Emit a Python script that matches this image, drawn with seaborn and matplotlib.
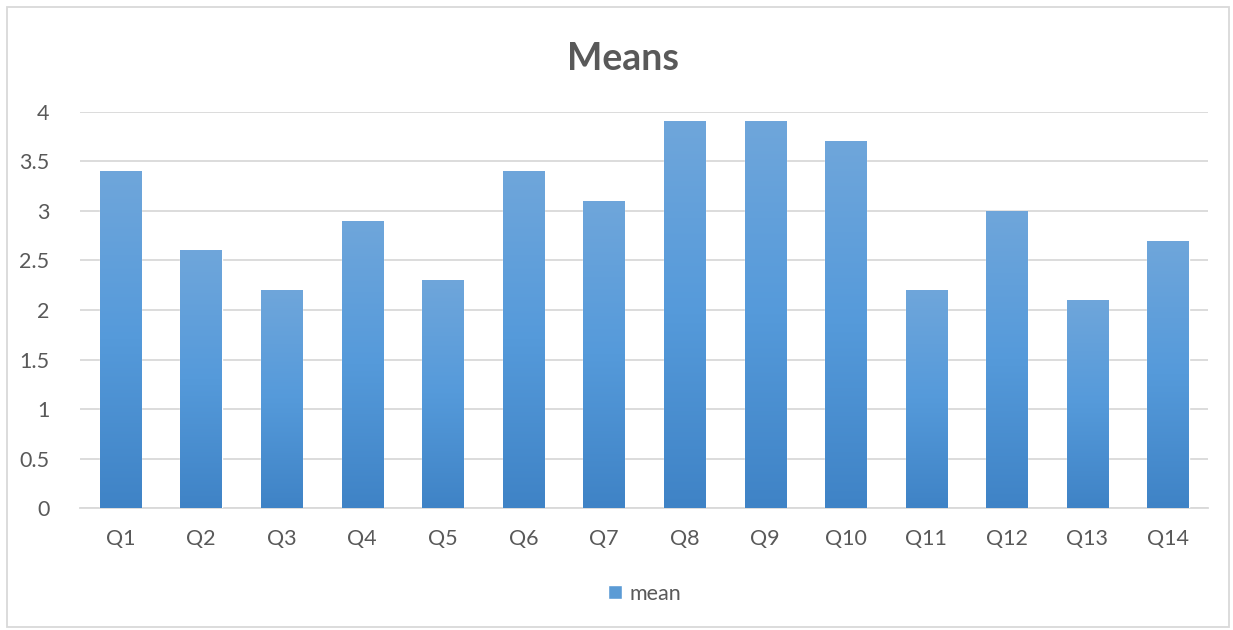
import numpy as np
import pandas as pd
import seaborn as sns
from matplotlib import pyplot as plt
from matplotlib.colors import LinearSegmentedColormap
from matplotlib.patches import Rectangle

questions = ['Q1', 'Q2', 'Q3', 'Q4', 'Q5', 'Q6', 'Q7',
             'Q8', 'Q9', 'Q10', 'Q11', 'Q12', 'Q13', 'Q14']
means = [3.4, 2.6, 2.2, 2.9, 2.3, 3.4, 3.1, 3.9, 3.9, 3.7, 2.2, 3.0, 2.1, 2.7]
yticks = [0, 0.5, 1, 1.5, 2, 2.5, 3, 3.5, 4]

df = pd.DataFrame({'question': questions, 'mean': means})

sns.set_style('white')
plt.rcParams['font.family'] = ['Lato', 'DejaVu Sans']
grey = '#595959'

fig = plt.figure(figsize=(12.33, 6.3), dpi=100)
ax = fig.add_axes([0.065, 0.193, 0.915, 0.63])

sns.barplot(data=df, x='question', y='mean', color='#5b9bd5',
            width=0.51, saturation=1, ax=ax, label='mean', zorder=3)

# excel style vertical gradient inside each bar
cmap = LinearSegmentedColormap.from_list('xl', ['#3f83c6', '#559ada', '#6fa6db'])
grad = np.linspace(0, 1, 256).reshape(-1, 1)
for p in ax.patches:
    x0, y0 = p.get_x(), p.get_y()
    w, h = p.get_width(), p.get_height()
    im = ax.imshow(grad, cmap=cmap, origin='lower', aspect='auto',
                   extent=[x0, x0 + w, y0, y0 + h], zorder=4)
    im.set_clip_path(p)

ax.set_xlim(-0.5, len(questions) - 0.5)
ax.set_ylim(0, 4)
ax.set_yticks(yticks)
ax.set_yticklabels(['0', '0.5', '1', '1.5', '2', '2.5', '3', '3.5', '4'])
ax.yaxis.grid(True, color='#d9d9d9', linewidth=1.3, zorder=0)
ax.set_axisbelow(True)
for s in ['top', 'right', 'left']:
    ax.spines[s].set_visible(False)
ax.spines['bottom'].set_color('#d9d9d9')
ax.spines['bottom'].set_linewidth(1.3)
ax.tick_params(axis='both', length=0, labelsize=15.5, colors=grey)
ax.tick_params(axis='x', pad=15)
ax.tick_params(axis='y', pad=22)
ax.set_xlabel('')
ax.set_ylabel('')

fig.suptitle('Means', x=0.505, y=0.933, fontsize=27, fontweight='bold', color=grey)

leg = ax.legend(loc='center', bbox_to_anchor=(0.5, -0.215), frameon=False,
                fontsize=15.5, handlelength=0.65, handleheight=0.65,
                handletextpad=0.35, labelcolor=grey)

fig.patches.append(Rectangle((0.006, 0.004), 0.991, 0.985, transform=fig.transFigure,
                             fill=False, edgecolor='#d9d9d9', linewidth=1.3))

plt.savefig('out.png', dpi=100)
